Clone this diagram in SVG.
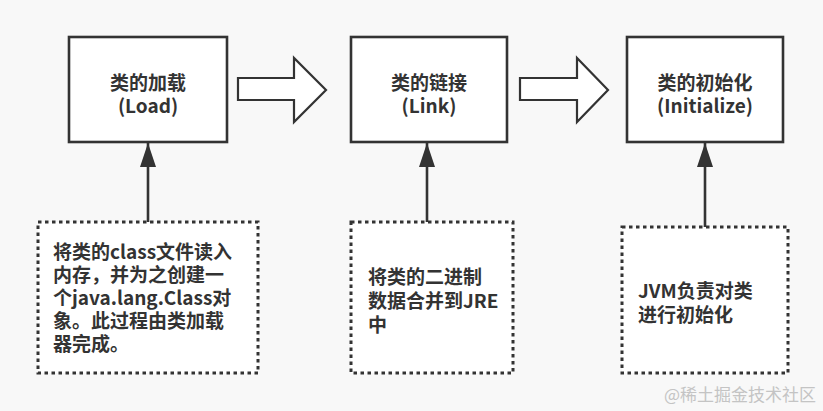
<svg xmlns="http://www.w3.org/2000/svg" width="823" height="411" viewBox="0 0 823 411">
<style>
.bg{fill:#f8f8f8}
.box{fill:#ffffff;stroke:#333333;stroke-width:2.6}
.note{fill:#ffffff;stroke:#333333;stroke-width:3;stroke-dasharray:3.5 3.5}
.big{fill:#ffffff;stroke:#333333;stroke-width:2.2;stroke-linejoin:miter}
.con{stroke:#333333;stroke-width:2.6;fill:none}
.t{font-family:"Noto Sans CJK SC","Noto Sans",sans-serif;font-weight:bold;font-size:19px;fill:#333333}
.c{text-anchor:middle}
.wm{font-family:"Noto Sans CJK SC",sans-serif;font-size:17px;fill:#c4c4c4}
</style>
<defs>
<marker id="ah" viewBox="0 0 24 16" refX="24" refY="8" markerWidth="24" markerHeight="16" markerUnits="userSpaceOnUse" orient="auto">
<path d="M24 8 L0 0 L0 16 Z" fill="#333333"/>
</marker>
</defs>
<rect class="bg" x="0" y="0" width="823" height="411"/>

<g id="load">
<rect class="box" x="69" y="37" width="158" height="105"/>
<text class="t c" x="148" y="90">类的加载</text>
<text class="t c" x="148" y="113">(Load)</text>
</g>
<g id="link">
<rect class="box" x="351" y="37" width="156" height="105"/>
<text class="t c" x="429" y="90">类的链接</text>
<text class="t c" x="429" y="113">(Link)</text>
</g>
<g id="init">
<rect class="box" x="627" y="37" width="156" height="105"/>
<text class="t c" x="705" y="90">类的初始化</text>
<text class="t c" x="705" y="113">(Initialize)</text>
</g>

<g id="note-load">
<rect class="note" x="38" y="222" width="220" height="151"/>
<text class="t" x="53" y="259">将类的class文件读入</text>
<text class="t" x="53" y="282">内存，并为之创建一</text>
<text class="t" x="53" y="305">个java.lang.Class对</text>
<text class="t" x="53" y="328">象。此过程由类加载</text>
<text class="t" x="53" y="351">器完成。</text>
</g>
<g id="note-link">
<rect class="note" x="351" y="222" width="162" height="151"/>
<text class="t" x="368" y="284">将类的二进制</text>
<text class="t" x="368" y="308">数据合并到JRE</text>
<text class="t" x="368" y="332">中</text>
</g>
<g id="note-init">
<rect class="note" x="622" y="227" width="166" height="146"/>
<text class="t" x="638" y="298">JVM负责对类</text>
<text class="t" x="638" y="322">进行初始化</text>
</g>

<g id="connectors">
<path class="big" d="M238 78 L294 78 L294 58 L326 90 L294 122 L294 100 L238 100 Z"/>
<path class="big" d="M520 78 L577 78 L577 58 L608 90 L577 122 L577 100 L520 100 Z"/>
<line class="con" x1="148" y1="222" x2="148" y2="143" marker-end="url(#ah)"/>
<line class="con" x1="427" y1="222" x2="427" y2="143" marker-end="url(#ah)"/>
<line class="con" x1="705" y1="227" x2="705" y2="143" marker-end="url(#ah)"/>
</g>

<text class="wm" x="664" y="401" textLength="152" lengthAdjust="spacingAndGlyphs">@稀土掘金技术社区</text>
</svg>
